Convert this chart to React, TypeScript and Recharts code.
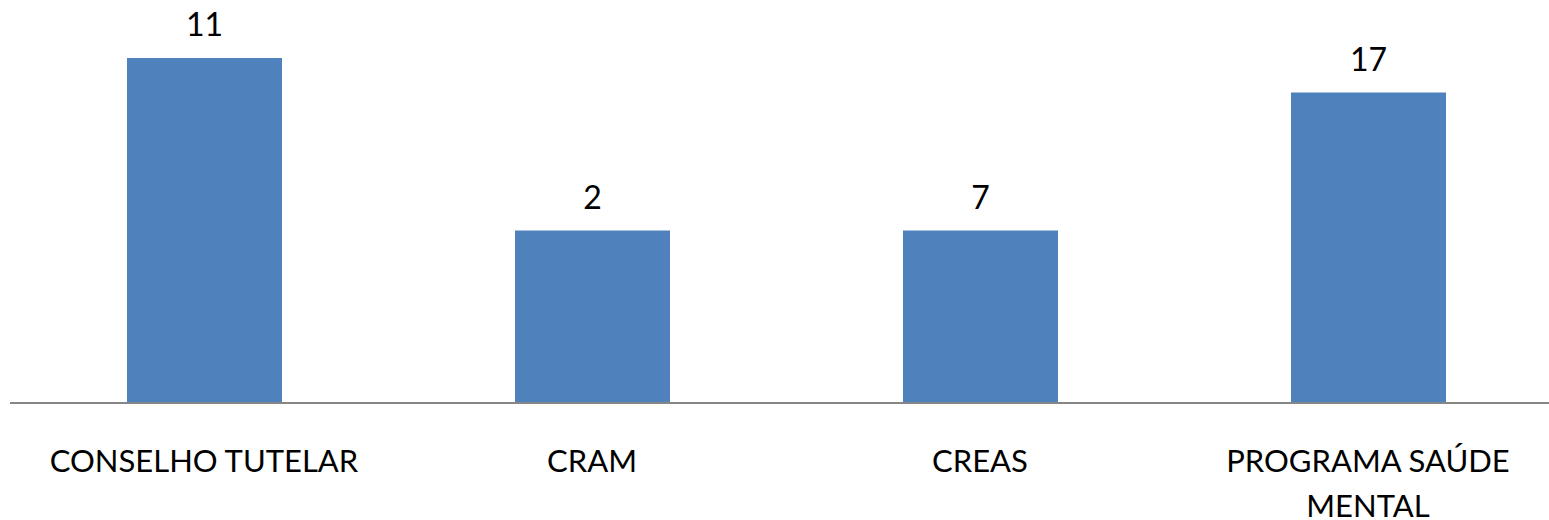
import React from 'react';
import { BarChart, Bar, XAxis, YAxis, LabelList } from 'recharts';

// categories, bar heights and the numbers printed above the bars
const categories = ['CONSELHO TUTELAR', 'CRAM', 'CREAS', 'PROGRAMA SAÚDE MENTAL'];
const barValues = [20, 10, 10, 18];
const barLabels = ['11', '2', '7', '17'];

const data = categories.map((name, i) => ({ name, value: barValues[i], label: barLabels[i] }));

const FONT = 'Lato, "Open Sans", sans-serif';

// greedy word wrap, max 16 characters per line
const wrap = (s: string, max = 16) => {
  const lines: string[] = [];
  let cur = '';
  s.split(' ').forEach((w) => {
    const next = cur ? cur + ' ' + w : w;
    if (next.length > max && cur) {
      lines.push(cur);
      cur = w;
    } else {
      cur = next;
    }
  });
  if (cur) lines.push(cur);
  return lines;
};

const CategoryTick = (props: any) => {
  const { x, y, payload } = props;
  const lines = wrap(String(payload.value));
  return (
    <text x={x} y={y + 69} textAnchor="middle" fill="#000" style={{ fontFamily: FONT, fontSize: 31 }}>
      {lines.map((l, i) => (
        <tspan key={i} x={x} dy={i === 0 ? 0 : 45}>
          {l}
        </tspan>
      ))}
    </text>
  );
};

const ValueLabel = (props: any) => {
  const { x, y, width, index } = props;
  return (
    <text
      x={x + width / 2}
      y={y - 22}
      textAnchor="middle"
      fill="#000"
      style={{ fontFamily: FONT, fontSize: 32 }}
    >
      {barLabels[index]}
    </text>
  );
};

export default function App() {
  return (
    <div style={{ position: 'absolute', left: 0, top: 0, width: 1549, height: 520, overflow: 'hidden', background: '#fff' }}>
      <BarChart width={1562} height={520} data={data} margin={{ top: 58, right: 0, bottom: 0, left: 10 }}>
        <YAxis hide domain={[0, 20]} />
        <XAxis
          dataKey="name"
          height={117}
          tickLine={false}
          tickSize={0}
          tickMargin={0}
          axisLine={{ stroke: '#868686', strokeWidth: 2 }}
          tick={<CategoryTick />}
          interval={0}
        />
        <Bar dataKey="value" fill="#4f81bd" barSize={155} isAnimationActive={false}>
          <LabelList dataKey="label" content={<ValueLabel />} />
        </Bar>
      </BarChart>
    </div>
  );
}
